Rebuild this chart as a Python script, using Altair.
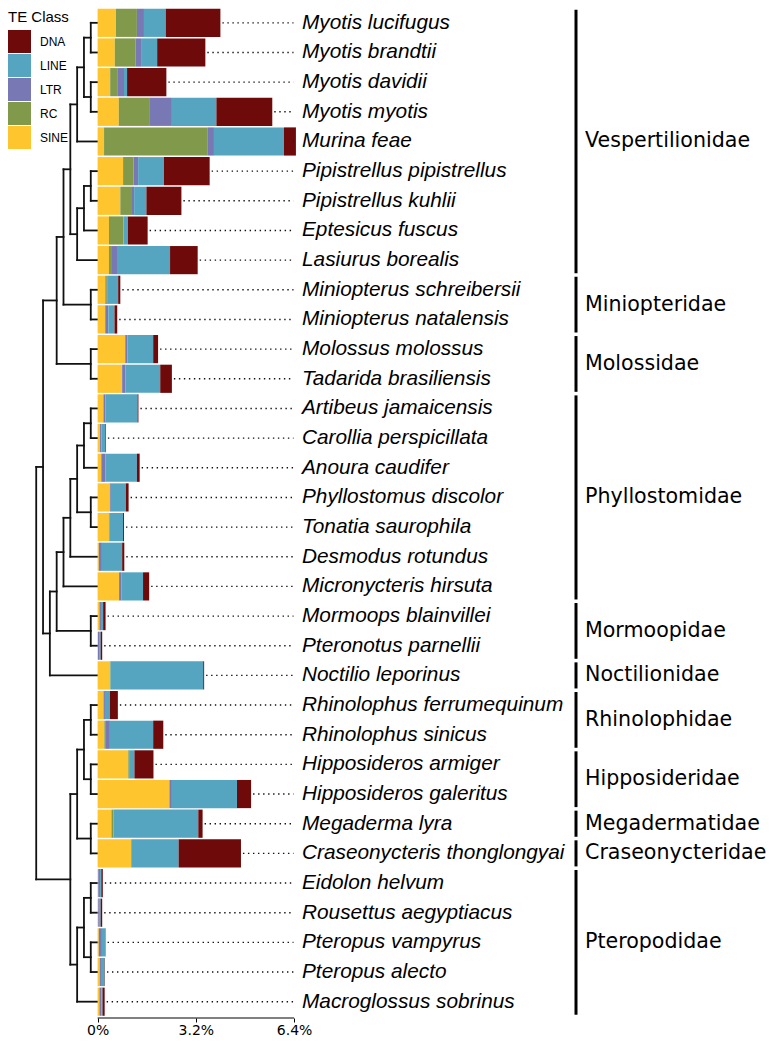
import altair as alt
import pandas as pd

# ---------------- data ----------------
species = [
    "Myotis lucifugus", "Myotis brandtii", "Myotis davidii", "Myotis myotis",
    "Murina feae", "Pipistrellus pipistrellus", "Pipistrellus kuhlii",
    "Eptesicus fuscus", "Lasiurus borealis", "Miniopterus schreibersii",
    "Miniopterus natalensis", "Molossus molossus", "Tadarida brasiliensis",
    "Artibeus jamaicensis", "Carollia perspicillata", "Anoura caudifer",
    "Phyllostomus discolor", "Tonatia saurophila", "Desmodus rotundus",
    "Micronycteris hirsuta", "Mormoops blainvillei", "Pteronotus parnellii",
    "Noctilio leporinus", "Rhinolophus ferrumequinum", "Rhinolophus sinicus",
    "Hipposideros armiger", "Hipposideros galeritus", "Megaderma lyra",
    "Craseonycteris thonglongyai", "Eidolon helvum", "Rousettus aegyptiacus",
    "Pteropus vampyrus", "Pteropus alecto", "Macroglossus sobrinus",
]

# TE class share of genome (%), stacked left to right: SINE, RC, LTR, LINE, DNA
sine = [0.60, 0.56, 0.41, 0.69, 0.21, 0.83, 0.74, 0.37, 0.37, 0.25, 0.24, 0.90,
        0.80, 0.19, 0.08, 0.12, 0.40, 0.37, 0.04, 0.70, 0.06, 0.01, 0.40, 0.19,
        0.22, 1.00, 2.34, 0.45, 1.09, 0.02, 0.02, 0.04, 0.07, 0.06]
rc = [0.68, 0.67, 0.25, 0.99, 3.38, 0.34, 0.38, 0.47, 0.07, 0.05, 0.01, 0.00,
      0.00, 0.00, 0.00, 0.00, 0.00, 0.00, 0.00, 0.00, 0.00, 0.00, 0.02, 0.02,
      0.05, 0.05, 0.00, 0.07, 0.00, 0.00, 0.00, 0.00, 0.00, 0.00]
ltr = [0.23, 0.21, 0.20, 0.74, 0.20, 0.15, 0.07, 0.01, 0.22, 0.03, 0.10, 0.07,
       0.11, 0.07, 0.04, 0.13, 0.03, 0.02, 0.10, 0.07, 0.05, 0.04, 0.00, 0.03,
       0.13, 0.00, 0.08, 0.00, 0.02, 0.06, 0.05, 0.10, 0.04, 0.06]
line = [0.71, 0.50, 0.10, 1.45, 2.28, 0.84, 0.40, 0.14, 1.70, 0.34, 0.20, 0.84,
        1.13, 1.04, 0.13, 1.03, 0.49, 0.44, 0.66, 0.71, 0.07, 0.05, 3.02, 0.16,
        1.41, 0.15, 2.12, 2.76, 1.53, 0.04, 0.03, 0.11, 0.12, 0.04]
dna = [1.78, 1.57, 1.28, 1.82, 0.39, 1.49, 1.14, 0.64, 0.90, 0.07, 0.09, 0.16,
       0.38, 0.03, 0.02, 0.09, 0.09, 0.03, 0.07, 0.20, 0.08, 0.05, 0.03, 0.26,
       0.33, 0.62, 0.46, 0.14, 2.03, 0.05, 0.05, 0.01, 0.01, 0.07]

stack_order = ["SINE", "RC", "LTR", "LINE", "DNA"]
legend_order = ["DNA", "LINE", "LTR", "RC", "SINE"]
legend_colors = ["#6f0a0a", "#55a5c1", "#7878b5", "#80994a", "#fec52e"]

families = ["Vespertilionidae", "Miniopteridae", "Molossidae", "Phyllostomidae",
            "Mormoopidae", "Noctilionidae", "Rhinolophidae", "Hipposideridae",
            "Megadermatidae", "Craseonycteridae", "Pteropodidae"]
family_sizes = [9, 2, 2, 7, 2, 1, 2, 2, 1, 1, 5]

axis_ticks = [0, 3.2, 6.4]

# cladogram topology (built from clades)
clade_myotis = (("Myotis lucifugus", "Myotis brandtii"), ("Myotis davidii", "Myotis myotis"))
clade_a = (clade_myotis, "Murina feae")
clade_b = ((("Pipistrellus pipistrellus", "Pipistrellus kuhlii"), "Eptesicus fuscus"), "Lasiurus borealis")
vesp = (clade_a, clade_b)
yango1 = ((vesp, ("Miniopterus schreibersii", "Miniopterus natalensis")),
          ("Molossus molossus", "Tadarida brasiliensis"))
p1 = (("Artibeus jamaicensis", "Carollia perspicillata"), "Anoura caudifer")
p2 = (p1, ("Phyllostomus discolor", "Tonatia saurophila"))
p3 = ((p2, "Desmodus rotundus"), "Micronycteris hirsuta")
noct = ((p3, ("Mormoops blainvillei", "Pteronotus parnellii")), "Noctilio leporinus")
yango = (yango1, noct)
rhino = ((("Rhinolophus ferrumequinum", "Rhinolophus sinicus"),
          ("Hipposideros armiger", "Hipposideros galeritus")),
         ("Megaderma lyra", "Craseonycteris thonglongyai"))
ptero = ((("Eidolon helvum", "Rousettus aegyptiacus"), ("Pteropus vampyrus", "Pteropus alecto")),
         "Macroglossus sobrinus")
tree = (yango, (rhino, ptero))

# ---------------- layout constants ----------------
W, H = 762, 1010
PAD_BOTTOM = 19
ZERO_PX = 89.6          # pixel of 0 % inside plot area
PX_PER_PCT = 30.7
TREE_STEP = 6.82        # pixels per cladogram level
HALF = 0.475            # half bar thickness in rows
N = len(species)

x_dom = [-ZERO_PX / PX_PER_PCT, (W - ZERO_PX) / PX_PER_PCT]
tree_dom = [-(W - ZERO_PX) / TREE_STEP, ZERO_PX / TREE_STEP]
y_scale = alt.Scale(domain=[-0.5, N - 0.45], reverse=True, nice=False, zero=False)


def pct_scale():
    return alt.Scale(domain=x_dom, nice=False, zero=False)


# ---------------- tables ----------------
row_of = {s: i for i, s in enumerate(species)}
series = {"SINE": sine, "RC": rc, "LTR": ltr, "LINE": line, "DNA": dna}

bar_rows = []
totals = []
for i, s in enumerate(species):
    acc = 0.0
    for te in stack_order:
        v = series[te][i]
        bar_rows.append({"species": s, "te": te, "start": acc, "end": acc + v,
                         "y0": i - HALF, "y1": i + HALF})
        acc += v
    totals.append({"species": s, "row": i, "total": acc})
bars_df = pd.DataFrame(bar_rows)
tot_df = pd.DataFrame(totals)

segs = []


def layout(node):
    if isinstance(node, str):
        return 0, float(row_of[node])
    kids = [layout(c) for c in node]
    h = 1 + max(k[0] for k in kids)
    ys = [k[1] for k in kids]
    segs.append({"x": h, "x2": h, "y": ys[0], "y2": ys[-1]})
    for kh, ky in kids:
        segs.append({"x": kh, "x2": h, "y": ky, "y2": ky})
    return h, (ys[0] + ys[-1]) / 2


layout(tree)
tree_df = pd.DataFrame(segs)

fam_rows = []
start = 0
for f, n in zip(families, family_sizes):
    fam_rows.append({"family": f, "b0": start - 0.5 + 0.06, "b1": start + n - 1 + 0.5 - 0.06,
                     "mid": start + (n - 1) / 2})
    start += n
fam_df = pd.DataFrame(fam_rows)

axis_df = pd.DataFrame([{"a": axis_ticks[0], "b": axis_ticks[-1]}])

# ---------------- layers ----------------
tree_layer = alt.Chart(tree_df).mark_rule(color="#111111", strokeWidth=1.8, strokeCap="square").encode(
    x=alt.X("x:Q", scale=alt.Scale(domain=tree_dom, reverse=True, nice=False, zero=False), axis=None),
    x2="x2:Q",
    y=alt.Y("y:Q", scale=y_scale, axis=None),
    y2="y2:Q",
)

bars = alt.Chart(bars_df).mark_bar().encode(
    x=alt.X("start:Q", scale=pct_scale(), title=None,
            axis=alt.Axis(orient="bottom", values=axis_ticks, labelExpr="datum.value + '%'",
                          domain=False, grid=False, ticks=True, tickSize=4, tickColor="black",
                          tickWidth=1, labelFont="DejaVu Sans", labelFontSize=14,
                          labelColor="black", labelPadding=1, labelFlush=False)),
    x2="end:Q",
    y=alt.Y("y0:Q", scale=y_scale, axis=None),
    y2="y1:Q",
    color=alt.Color("te:N", scale=alt.Scale(domain=legend_order, range=legend_colors),
                    legend=alt.Legend(title="TE Class", orient="none", legendX=0, legendY=2,
                                      symbolType="square", symbolSize=529, symbolStrokeWidth=0,
                                      symbolOpacity=1, labelOffset=9, rowPadding=1,
                                      titleFont="Liberation Sans", titleFontSize=15,
                                      titleFontWeight="normal", titleColor="black",
                                      titlePadding=5, labelFont="Liberation Sans",
                                      labelFontSize=12, labelColor="black", padding=0)),
)

leaders = alt.Chart(tot_df).mark_rule(color="#111111", strokeWidth=1.4,
                                      strokeDash=[1.4, 3.6], strokeDashOffset=3.0).encode(
    x=alt.X("total:Q", scale=pct_scale(), axis=None),
    x2=alt.value(285.5),
    y=alt.Y("row:Q", scale=y_scale, axis=None),
)

labels = alt.Chart(tot_df).mark_text(align="left", baseline="middle", font="Liberation Sans",
                                     fontStyle="italic", fontSize=20.8, color="black").encode(
    x=alt.value(294),
    y=alt.Y("row:Q", scale=y_scale, axis=None),
    text="species:N",
)

brackets = alt.Chart(fam_df).mark_rule(color="black", strokeWidth=3).encode(
    x=alt.value(568),
    y=alt.Y("b0:Q", scale=y_scale, axis=None),
    y2="b1:Q",
)

fam_labels = alt.Chart(fam_df).mark_text(align="left", baseline="middle", font="DejaVu Sans",
                                         fontSize=20.6, color="black").encode(
    x=alt.value(577),
    y=alt.Y("mid:Q", scale=y_scale, axis=None),
    text="family:N",
)

axis_line = alt.Chart(axis_df).mark_rule(color="black", strokeWidth=1).encode(
    x=alt.X("a:Q", scale=pct_scale(), axis=None),
    x2="b:Q",
    y=alt.value(H),
)

chart = alt.layer(
    tree_layer, bars, leaders, labels, brackets, fam_labels, axis_line
).resolve_scale(x="independent").properties(
    width=W, height=H, background="white",
    autosize=alt.AutoSizeParams(type="none"),
    padding={"left": 0, "top": 0, "right": 0, "bottom": PAD_BOTTOM},
).configure_view(stroke=None)

chart.save("out.html", embed_options={"renderer": "svg", "actions": False})
